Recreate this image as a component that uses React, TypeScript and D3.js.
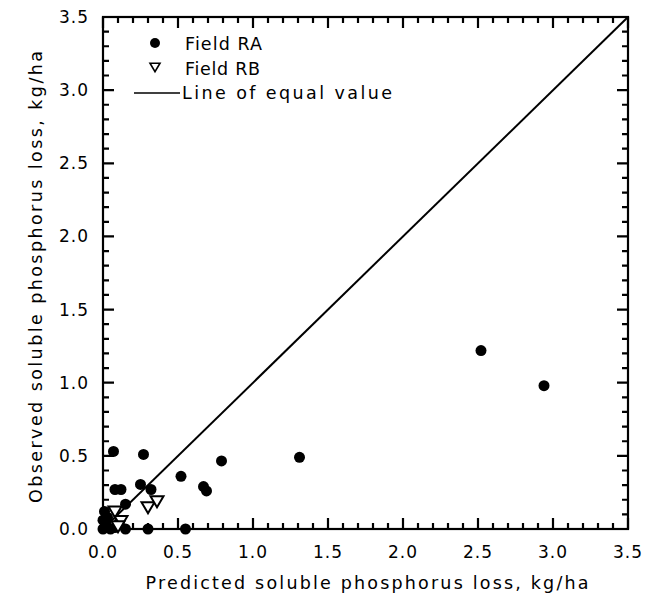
import { useEffect, useRef } from 'react'
import * as d3 from 'd3'

// Field RA: predicted vs observed soluble P loss (kg/ha)
const raPredicted = [2.52, 2.94, 1.31, 0.79, 0.52, 0.67, 0.69, 0.55, 0.30, 0.07, 0.27, 0.08, 0.12, 0.25, 0.32, 0.15, 0.01, 0.00, 0.02, 0.00, 0.05, 0.08, 0.11, 0.15, 0.03]
const raObserved = [1.22, 0.98, 0.49, 0.465, 0.36, 0.29, 0.26, 0.00, 0.00, 0.53, 0.51, 0.27, 0.27, 0.305, 0.27, 0.17, 0.12, 0.06, 0.03, 0.00, 0.00, 0.01, 0.05, 0.00, 0.08]
// Field RB
const rbPredicted = [0.30, 0.36, 0.08, 0.12, 0.10]
const rbObserved = [0.15, 0.19, 0.12, 0.055, 0.02]

const majorTicks = [0, 0.5, 1, 1.5, 2, 2.5, 3, 3.5]
const minorTicks = [0.1, 0.2, 0.3, 0.4, 0.6, 0.7, 0.8, 0.9, 1.1, 1.2, 1.3, 1.4, 1.6, 1.7, 1.8, 1.9, 2.1, 2.2, 2.3, 2.4, 2.6, 2.7, 2.8, 2.9, 3.1, 3.2, 3.3, 3.4]
const xTitle = 'Predicted soluble phosphorus loss, kg/ha'
const yTitle = 'Observed soluble phosphorus loss, kg/ha'
const legendLabels = ['Field RA', 'Field RB', 'Line of equal value']

export default function App() {
  const svgRef = useRef<SVGSVGElement>(null)

  useEffect(() => {
    if (!svgRef.current) return
    const W = 650, H = 599
    const left = 103, right = 628, top = 17, bottom = 529
    const font = "'DejaVu Sans', sans-serif"

    const svg = d3.select(svgRef.current)
    svg.selectAll('*').remove()
    svg.attr('width', W).attr('height', H)

    const x = d3.scaleLinear().domain([0, 3.5]).range([left, right])
    const y = d3.scaleLinear().domain([0, 3.5]).range([bottom, top])

    const g = svg.append('g')

    // inward ticks on all four sides, as one path
    const path = d3.path()
    const addTicks = (vals: number[], len: number) => {
      vals.forEach(v => {
        const px = x(v), py = y(v)
        path.moveTo(px, bottom); path.lineTo(px, bottom - len)
        path.moveTo(px, top); path.lineTo(px, top + len)
        path.moveTo(left, py); path.lineTo(left + len, py)
        path.moveTo(right, py); path.lineTo(right - len, py)
      })
    }
    addTicks(majorTicks, 11)
    addTicks(minorTicks, 6)
    g.append('path')
      .attr('d', path.toString())
      .attr('fill', 'none').attr('stroke', '#000').attr('stroke-width', 2.2)

    // frame
    g.append('rect')
      .attr('x', left).attr('y', top)
      .attr('width', right - left).attr('height', bottom - top)
      .attr('fill', 'none').attr('stroke', '#000').attr('stroke-width', 2.2)

    // tick labels
    g.selectAll('.xlab').data(majorTicks).join('text')
      .attr('x', d => x(d)).attr('y', bottom + 29)
      .attr('text-anchor', 'middle')
      .attr('font-family', font).attr('font-size', 17).attr('letter-spacing', 1)
      .text(d => d.toFixed(1))
    g.selectAll('.ylab').data(majorTicks).join('text')
      .attr('x', left - 14).attr('y', d => y(d) + 6)
      .attr('text-anchor', 'end')
      .attr('font-family', font).attr('font-size', 17).attr('letter-spacing', 1)
      .text(d => d.toFixed(1))

    // axis titles
    g.append('text')
      .attr('x', 367).attr('y', 589)
      .attr('text-anchor', 'middle')
      .attr('font-family', font).attr('font-size', 17.5)
      .attr('textLength', 443).attr('lengthAdjust', 'spacing')
      .text(xTitle)
    g.append('text')
      .attr('transform', `translate(42,277) rotate(-90)`)
      .attr('text-anchor', 'middle')
      .attr('font-family', font).attr('font-size', 17.5)
      .attr('textLength', 452).attr('lengthAdjust', 'spacing')
      .text(yTitle)

    // line of equal value
    g.append('line')
      .attr('x1', x(0)).attr('y1', y(0)).attr('x2', x(3.5)).attr('y2', y(3.5))
      .attr('stroke', '#000').attr('stroke-width', 2)

    // Field RA
    g.selectAll('.ra').data(raPredicted).join('circle')
      .attr('cx', d => x(d)).attr('cy', (_, i) => y(raObserved[i]))
      .attr('r', 5.5).attr('fill', '#000')

    // Field RB
    const tri = (cx: number, cy: number, s: number) =>
      `M${cx - s},${cy - s * 0.75}L${cx + s},${cy - s * 0.75}L${cx},${cy + s * 0.95}Z`
    g.selectAll('.rb').data(rbPredicted).join('path')
      .attr('d', (d, i) => tri(x(d), y(rbObserved[i]), 6.5))
      .attr('fill', '#fff').attr('stroke', '#000').attr('stroke-width', 2)

    // legend
    const lg = g.append('g').attr('font-family', font).attr('font-size', 17.5)
    lg.append('circle').attr('cx', 155).attr('cy', 43).attr('r', 5).attr('fill', '#000')
    lg.append('path').attr('d', tri(155, 67, 5)).attr('fill', '#fff').attr('stroke', '#000').attr('stroke-width', 1.6)
    lg.append('line').attr('x1', 134).attr('x2', 180).attr('y1', 93).attr('y2', 93)
      .attr('stroke', '#000').attr('stroke-width', 1.6)
    const lens = [77, 75, 210]
    legendLabels.forEach((t, i) => {
      lg.append('text')
        .attr('x', i === 2 ? 182 : 185).attr('y', 50 + i * 24.5)
        .attr('textLength', lens[i]).attr('lengthAdjust', 'spacing')
        .text(t)
    })
  }, [])

  return <svg ref={svgRef} style={{ position: 'absolute', left: 0, top: 0 }} />
}
